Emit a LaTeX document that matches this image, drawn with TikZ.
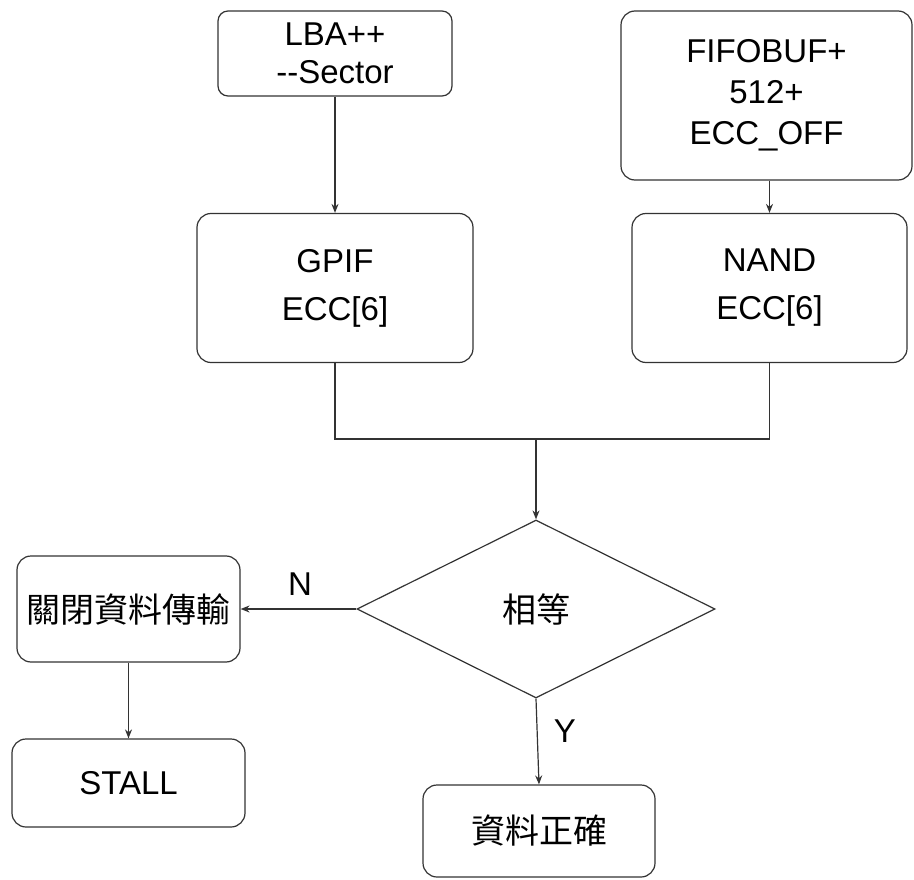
\documentclass[tikz,border=0pt]{standalone}
\usepackage{fontspec}
\setmainfont{Liberation Sans}
\newfontfamily\cjk{Noto Sans CJK TC}
\usetikzlibrary{shapes.geometric,arrows.meta}
\begin{document}
\begin{tikzpicture}[x=1pt,y=-1pt,
 box/.style={draw=black!80, line width=1.2pt, rounded corners=14pt, align=center, inner sep=0pt},
 conn/.style={draw=black!80, line width=1.2pt},
 arr/.style={conn, -{Stealth[length=9pt,width=7pt]}},
 lat/.style={font=\fontsize{33}{38}\selectfont},
 cjkt/.style={font=\cjk\fontsize{34}{38}\selectfont},
 ]
\useasboundingbox[fill=white] (0,0) rectangle (914,880);
\node[box, lat, minimum width=234pt, minimum height=85pt, rounded corners=10pt] (lba) at (335,53.5) {LBA++\\-{}-Sector};
\node[box, font=\fontsize{33}{41}\selectfont, minimum width=291pt, minimum height=169pt] (fifo) at (766.5,95.5) {FIFOBUF+\\512+\\ECC\_OFF};
\node[box, font=\fontsize{33}{48}\selectfont, minimum width=276pt, minimum height=149pt] (gpif) at (335,288) {GPIF\\ECC[6]};
\node[box, font=\fontsize{33}{48}\selectfont, minimum width=275pt, minimum height=149pt] (nand) at (769.5,288) {NAND\\ECC[6]};
\node[draw=black!80, line width=1.2pt, diamond, minimum width=358pt, minimum height=178pt, inner sep=0pt, cjkt] (dec) at (536,609) {相等};
\node[box, cjkt, minimum width=223pt, minimum height=106pt] (close) at (128.5,609) {關閉資料傳輸};
\node[box, lat, minimum width=233pt, minimum height=88pt] (stall) at (128.5,783) {STALL};
\node[box, cjkt, minimum width=232pt, minimum height=92pt] (ok) at (539,831) {資料正確};
\node[lat] (nlab) at (300,584) {N};
\node[lat] (ylab) at (565,731) {Y};
\coordinate (m) at (536,439);
\draw[arr] (lba.south) -- (gpif.north);
\draw[arr] (nand.north |- fifo.south) -- (nand.north);
\draw[conn] (gpif.south) |- (m) -| (nand.south);
\draw[arr] (m) -- (dec.north);
\draw[arr] (dec.west) -- (close.east);
\draw[arr] (close.south) -- (stall.north);
\draw[arr] (dec.south) -- (ok.north);
\end{tikzpicture}
\end{document}
